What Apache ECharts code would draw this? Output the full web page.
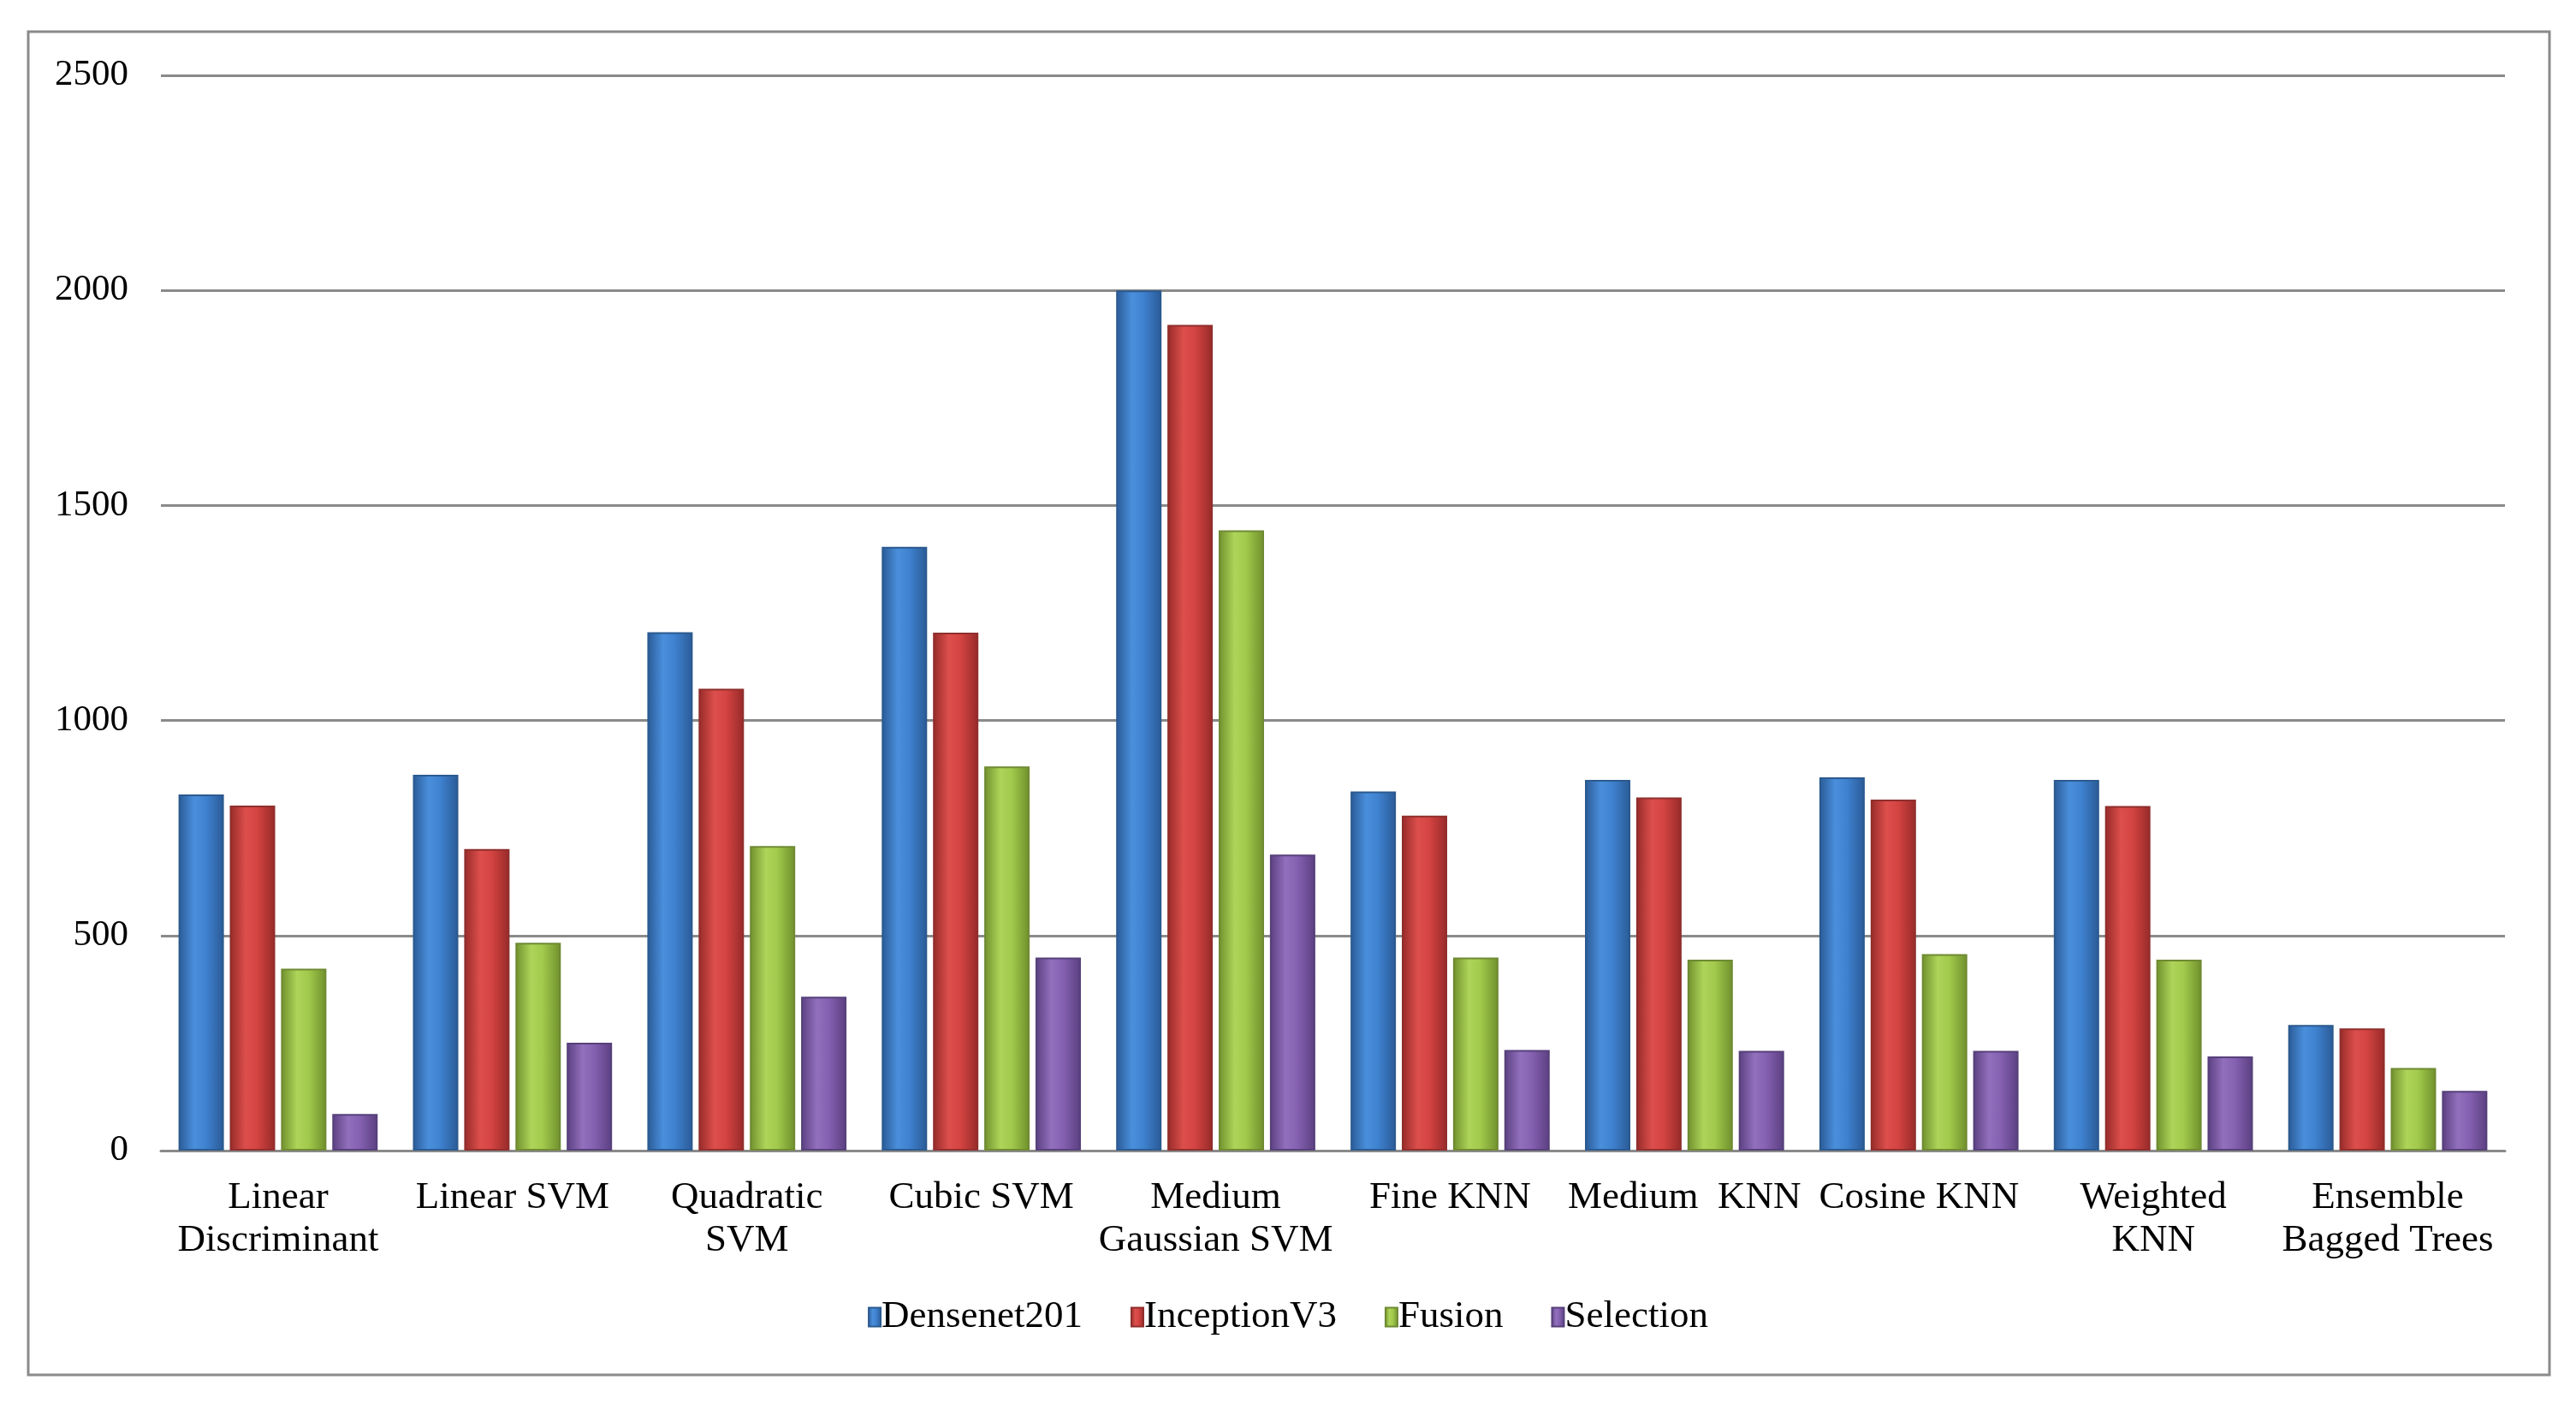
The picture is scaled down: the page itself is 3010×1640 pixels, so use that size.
<!DOCTYPE html>
<html>
<head>
<meta charset="utf-8">
<script src="https://cdn.jsdelivr.net/npm/echarts@6/dist/echarts.min.js"></script>
<style>
html,body{margin:0;padding:0;background:#fff;}
#chart{width:3010px;height:1640px;}
</style>
</head>
<body>
<div id="chart"></div>
<script>
const categories = ["Linear\nDiscriminant", "Linear SVM", "Quadratic\nSVM", "Cubic SVM", "Medium\nGaussian SVM", "Fine KNN", "Medium  KNN", "Cosine KNN", "Weighted\nKNN", "Ensemble\nBagged Trees"];
const seriesNames = ["Densenet201", "InceptionV3", "Fusion", "Selection"];
const densenet201 = [828, 874, 1205, 1404, 2000, 835, 862, 868, 862, 292];
const inceptionV3 = [802, 701, 1074, 1204, 1920, 779, 821, 816, 801, 284];
const fusion = [423, 483, 708, 893, 1442, 449, 444, 457, 444, 192];
const selection = [85, 251, 358, 449, 688, 234, 232, 232, 219, 139];
const yTicks = {min: 0, max: 2500, interval: 500};

const palettes = [
  {edge: '#2a5a96', mid: '#3f82d0', light: '#4a8fdc', border: '#2b5a8f'},
  {edge: '#962a28', mid: '#d44442', light: '#dc4f4c', border: '#8f2f2d'},
  {edge: '#6f8f2c', mid: '#a2ca4c', light: '#aed459', border: '#6f8a33'},
  {edge: '#5a3f80', mid: '#8661b2', light: '#9270bd', border: '#56407a'}
];
function grad(p) {
  return new echarts.graphic.LinearGradient(0, 0, 1, 0, [
    {offset: 0, color: p.edge},
    {offset: 0.35, color: p.light},
    {offset: 0.6, color: p.mid},
    {offset: 1, color: p.edge}
  ]);
}
const dataSets = [densenet201, inceptionV3, fusion, selection];
const font = '"Liberation Serif", "DejaVu Serif", serif';

const chart = echarts.init(document.getElementById('chart'));
chart.setOption({
  backgroundColor: '#ffffff',
  animation: false,
  graphic: [{
    type: 'rect',
    shape: {x: 33, y: 37, width: 2946, height: 1569},
    style: {fill: 'none', stroke: '#8a8a8a', lineWidth: 3},
    silent: true, z: -1
  }],
  grid: {left: 188, right: 83, top: 88, bottom: 296, containLabel: false},
  legend: {
    bottom: 74,
    left: 'center',
    itemWidth: 14,
    itemHeight: 22,
    itemGap: 56,
    textStyle: {fontFamily: font, fontSize: 45, color: '#000', padding: [0, 0, 0, -4]},
    data: seriesNames.map((n, i) => ({name: n, icon: 'rect', itemStyle: {color: grad(palettes[i])}}))
  },
  xAxis: {
    type: 'category',
    data: categories,
    axisLine: {show: true, lineStyle: {color: '#8a8a8a', width: 3}},
    axisTick: {show: false},
    axisLabel: {interval: 0, fontFamily: font, fontSize: 45, color: '#000', lineHeight: 50, margin: 30}
  },
  yAxis: {
    type: 'value',
    min: yTicks.min, max: yTicks.max, interval: yTicks.interval,
    axisLine: {show: false},
    axisTick: {show: false},
    splitLine: {lineStyle: {color: '#8a8a8a', width: 3}},
    axisLabel: {fontFamily: font, fontSize: 43, color: '#000', margin: 38, formatter: v => String(v)}
  },
  series: seriesNames.map((n, i) => ({
    name: n,
    type: 'bar',
    barWidth: 53,
    barGap: '13%',
    data: dataSets[i],
    itemStyle: {color: grad(palettes[i]), borderColor: palettes[i].border, borderWidth: 2},
    emphasis: {disabled: true}
  }))
});
</script>
</body>
</html>
